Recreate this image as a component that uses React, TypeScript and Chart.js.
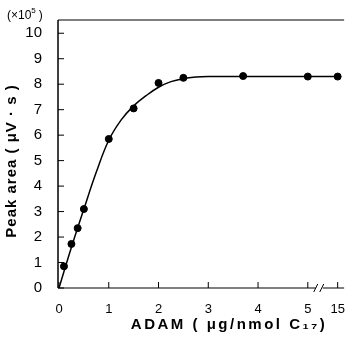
import React, { useEffect, useRef } from "react";
import { Chart, registerables } from "chart.js";
Chart.register(...registerables);

// Measured points (x in µg/nmol C17, y in ×10^5 µV·s)
const pointX = [0.1, 0.25, 0.375, 0.5, 1, 1.5, 2, 2.5, 3.7, 5, 15];
const pointY = [0.85, 1.73, 2.35, 3.1, 5.85, 7.05, 8.05, 8.25, 8.32, 8.3, 8.3];
// Fitted curve
const curveX = [0, 0.25, 0.5, 0.75, 1, 1.25, 1.5, 1.75, 2, 2.25, 2.5, 2.75, 3, 4, 5, 15];
const curveY = [0, 1.6, 3.1, 4.55, 5.8, 6.6, 7.15, 7.55, 7.88, 8.1, 8.22, 8.28, 8.3, 8.3, 8.3, 8.3];
const yTicks = [0, 1, 2, 3, 4, 5, 6, 7, 8, 9, 10];
const xTicks = [0, 1, 2, 3, 4, 5, 15];
const xTickLabels = ["0", "1", "2", "3", "4", "5", "15"];
const BREAK_POS = 5.6; // axis position standing for 15 after the break
const BREAK_AT = 5.22;

const mapX = (x: number) => (x > 10 ? BREAK_POS : x);

const drawPlugin = {
  id: "custom",
  afterDraw(chart: any) {
    const ctx = chart.ctx;
    const xs = chart.scales.x;
    const ys = chart.scales.y;
    const ca = chart.chartArea;
    ctx.save();
    ctx.strokeStyle = "#000";
    ctx.lineWidth = 1.5;
    ctx.beginPath();
    ctx.moveTo(ca.left, ca.top);
    ctx.lineTo(ca.left, ca.bottom);
    ctx.stroke();
    ctx.lineWidth = 1.2;
    ctx.beginPath();
    ctx.moveTo(ca.left, ca.top);
    ctx.lineTo(ca.right, ca.top);
    ctx.stroke();
    const bx = xs.getPixelForValue(BREAK_AT);
    ctx.beginPath();
    ctx.moveTo(ca.left, ca.bottom);
    ctx.lineTo(bx - 3, ca.bottom);
    ctx.moveTo(bx + 4, ca.bottom);
    ctx.lineTo(ca.right, ca.bottom);
    ctx.stroke();
    ctx.lineWidth = 1;
    ctx.beginPath();
    ctx.moveTo(bx - 5, ca.bottom + 4);
    ctx.lineTo(bx - 1, ca.bottom - 4);
    ctx.moveTo(bx + 1, ca.bottom + 4);
    ctx.lineTo(bx + 5, ca.bottom - 4);
    ctx.stroke();
    ctx.beginPath();
    yTicks.forEach((v) => {
      const py = ys.getPixelForValue(v);
      ctx.moveTo(ca.left, py);
      ctx.lineTo(ca.left + 6, py);
    });
    xTicks.forEach((v) => {
      const px = xs.getPixelForValue(mapX(v));
      ctx.moveTo(px, ca.bottom);
      ctx.lineTo(px, ca.bottom - 6);
    });
    ctx.stroke();
    // texts
    ctx.fillStyle = "#000";
    ctx.font = "bold 15px 'Liberation Sans', Arial, sans-serif";
    ctx.textAlign = "center";
    ctx.textBaseline = "middle";
    (ctx as any).letterSpacing = "2.5px";
    ctx.fillText("ADAM ( \u03bcg/nmol C\u2081\u2087)", 229, 325);
    (ctx as any).letterSpacing = "1px";
    ctx.save();
    ctx.translate(12, 161);
    ctx.rotate(-Math.PI / 2);
    ctx.fillText("Peak area ( \u03bcV \u00b7 s )", 0, 0);
    ctx.restore();
    (ctx as any).letterSpacing = "0px";
    ctx.textAlign = "left";
    ctx.textBaseline = "alphabetic";
    ctx.font = "12px 'Liberation Sans', Arial, sans-serif";
    let x = 7;
    ctx.fillText("(\u00d710", x, 19);
    x += ctx.measureText("(\u00d710").width;
    ctx.font = "8px 'Liberation Sans', Arial, sans-serif";
    ctx.fillText("5", x, 13);
    x += ctx.measureText("5").width + 3;
    ctx.font = "12px 'Liberation Sans', Arial, sans-serif";
    ctx.fillText(")", x, 19);
    ctx.restore();
  },
};

export default function App() {
  const ref = useRef<HTMLCanvasElement>(null);
  useEffect(() => {
    document.body.style.margin = "0";
    const chart = new Chart(ref.current as HTMLCanvasElement, {
      type: "scatter",
      data: {
        datasets: [
          {
            type: "line",
            data: curveX.map((x, i) => ({ x: mapX(x), y: curveY[i] })),
            borderColor: "#000",
            borderWidth: 1.5,
            pointRadius: 0,
            tension: 0.4,
            fill: false,
          } as any,
          {
            data: pointX.map((x, i) => ({ x: mapX(x), y: pointY[i] })),
            backgroundColor: "#000",
            borderColor: "#000",
            pointRadius: 3.5,
          },
        ],
      },
      options: {
        animation: false,
        responsive: false,
        layout: { padding: { top: 20, right: 0, left: 0, bottom: 0 } },
        plugins: { legend: { display: false }, tooltip: { enabled: false } },
        scales: {
          x: {
            type: "linear",
            min: -0.02,
            max: 5.73,
            grid: { display: false },
            border: { display: false },
            afterBuildTicks: (s: any) => {
              s.ticks = xTicks.map((v) => ({ value: mapX(v) }));
            },
            afterFit: (s: any) => {
              s.height = 49;
            },
            ticks: {
              padding: 6,
              color: "#000",
              font: { size: 13, family: "'Liberation Sans', Arial" },
              callback: (v: any) => {
                const i = xTicks.map(mapX).indexOf(Number(v));
                return i >= 0 ? xTickLabels[i] : "";
              },
            },
          },
          y: {
            min: 0,
            max: 10.52,
            grid: { display: false },
            border: { display: false },
            afterBuildTicks: (s: any) => {
              s.ticks = yTicks.map((v) => ({ value: v }));
            },
            afterFit: (s: any) => {
              s.width = 58;
            },
            ticks: {
              padding: 8,
              color: "#000",
              font: { size: 15, family: "'Liberation Sans', Arial" },
            },
          },
        },
      },
      plugins: [drawPlugin],
    });
    return () => chart.destroy();
  }, []);
  return <canvas ref={ref} width={351} height={337} style={{ display: "block" }} />;
}
